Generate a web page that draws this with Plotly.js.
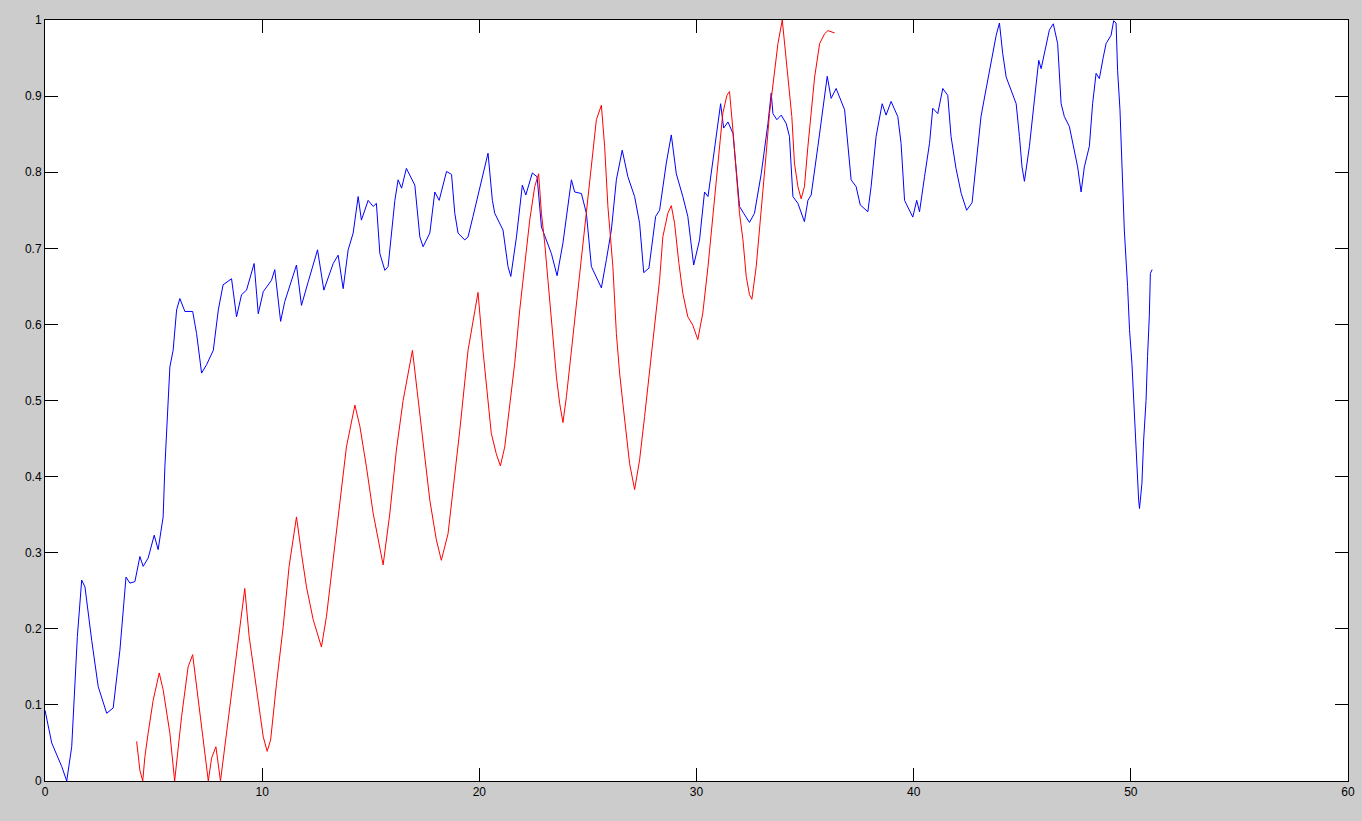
<!DOCTYPE html>
<html>
<head>
<meta charset="utf-8">
<script src="https://cdn.plot.ly/plotly-3.0.1.min.js"></script>
<style>html,body{margin:0;padding:0;background:#cccccc;}#chart{width:1362px;height:821px;}</style>
</head>
<body>
<div id="chart"></div>
<script>
const blueX = [0,0.31,0.77,1.0,1.23,1.38,1.49,1.69,1.84,2.15,2.45,2.84,3.14,3.45,3.73,3.91,4.14,4.37,4.52,4.75,5.03,5.21,5.44,5.52,5.67,5.75,5.9,6.06,6.21,6.44,6.8,6.98,7.21,7.44,7.75,7.98,8.2,8.59,8.82,9.05,9.28,9.63,9.82,10.05,10.43,10.58,10.85,11.04,11.58,11.81,12.12,12.55,12.84,13.27,13.5,13.73,13.96,14.19,14.42,14.57,14.88,15.11,15.26,15.42,15.65,15.8,16.11,16.26,16.42,16.64,17.03,17.26,17.41,17.72,17.95,18.15,18.49,18.72,18.87,19.02,19.33,19.48,19.71,20.02,20.4,20.6,20.71,21.09,21.32,21.45,21.71,21.98,22.14,22.44,22.66,22.86,23.09,23.32,23.58,23.85,24.24,24.39,24.7,24.93,25.16,25.31,25.62,25.85,26.08,26.31,26.58,26.84,27.15,27.38,27.57,27.81,28.12,28.3,28.61,28.84,29.07,29.37,29.6,29.87,30.14,30.37,30.53,30.76,31.11,31.25,31.45,31.68,31.83,31.98,32.17,32.44,32.67,32.98,33.29,33.44,33.52,33.7,33.9,34.13,34.28,34.44,34.67,34.97,35.13,35.28,35.59,35.82,36.02,36.2,36.43,36.82,36.97,37.12,37.35,37.54,37.89,38.04,38.27,38.55,38.73,38.96,39.27,39.42,39.58,39.96,40.14,40.27,40.5,40.73,40.88,41.11,41.34,41.57,41.72,41.95,42.19,42.44,42.69,42.87,43.1,43.3,43.57,43.8,43.95,44.1,44.26,44.49,44.72,44.87,44.99,45.1,45.33,45.56,45.76,45.87,46.02,46.25,46.43,46.63,46.79,46.94,47.17,47.4,47.55,47.71,47.86,48.09,48.24,48.4,48.55,48.73,48.86,49.09,49.21,49.32,49.39,49.5,49.59,49.7,49.85,49.94,50.05,50.13,50.21,50.28,50.36,50.4,50.51,50.59,50.7,50.77,50.85,50.9,50.98];
const blueY = [0.093,0.05,0.019,0.0,0.045,0.12,0.19,0.264,0.255,0.185,0.124,0.089,0.096,0.172,0.268,0.26,0.262,0.295,0.282,0.293,0.323,0.304,0.347,0.413,0.5,0.544,0.566,0.619,0.634,0.617,0.617,0.588,0.536,0.547,0.566,0.619,0.652,0.66,0.61,0.639,0.645,0.68,0.614,0.643,0.658,0.672,0.604,0.63,0.678,0.625,0.656,0.698,0.645,0.68,0.691,0.647,0.698,0.72,0.768,0.737,0.763,0.755,0.759,0.693,0.671,0.676,0.763,0.79,0.779,0.805,0.783,0.715,0.702,0.72,0.774,0.763,0.801,0.797,0.746,0.72,0.711,0.715,0.742,0.781,0.825,0.763,0.746,0.724,0.676,0.663,0.715,0.783,0.77,0.799,0.794,0.728,0.711,0.693,0.664,0.707,0.79,0.774,0.772,0.746,0.676,0.667,0.648,0.685,0.724,0.79,0.829,0.794,0.768,0.733,0.668,0.674,0.742,0.75,0.812,0.849,0.798,0.768,0.742,0.678,0.711,0.774,0.768,0.816,0.89,0.858,0.866,0.851,0.807,0.755,0.746,0.734,0.746,0.798,0.864,0.904,0.877,0.869,0.875,0.864,0.847,0.768,0.759,0.735,0.763,0.77,0.834,0.886,0.926,0.897,0.91,0.882,0.838,0.79,0.781,0.757,0.748,0.781,0.847,0.89,0.875,0.893,0.873,0.838,0.763,0.741,0.763,0.748,0.794,0.838,0.884,0.877,0.91,0.901,0.847,0.805,0.772,0.75,0.76,0.812,0.873,0.904,0.947,0.98,0.996,0.956,0.925,0.908,0.89,0.847,0.807,0.788,0.834,0.895,0.947,0.936,0.956,0.987,0.995,0.969,0.89,0.873,0.86,0.829,0.807,0.774,0.807,0.834,0.89,0.93,0.923,0.951,0.969,0.98,0.999,0.996,0.934,0.882,0.798,0.724,0.65,0.593,0.549,0.5,0.466,0.413,0.369,0.358,0.391,0.448,0.5,0.558,0.61,0.667,0.672];
const redX = [4.22,4.37,4.5,4.6,4.75,4.98,5.26,5.44,5.75,5.97,6.29,6.59,6.8,7.06,7.32,7.52,7.67,7.87,8.08,8.36,8.67,8.97,9.2,9.4,9.66,9.89,10.05,10.23,10.39,10.66,10.97,11.24,11.58,11.81,12.04,12.35,12.73,12.96,13.27,13.58,13.88,14.27,14.5,14.8,15.11,15.57,15.88,16.18,16.49,16.92,17.18,17.41,17.72,18.02,18.25,18.56,18.87,19.1,19.48,19.94,20.17,20.4,20.55,20.78,20.97,21.17,21.4,21.63,21.86,22.09,22.32,22.55,22.73,22.86,23.01,23.16,23.39,23.55,23.7,23.85,24.01,24.24,24.47,24.7,24.93,25.16,25.39,25.62,25.77,25.92,26.15,26.31,26.46,26.61,26.77,26.92,27.15,27.38,27.61,27.84,28.07,28.3,28.45,28.68,28.84,28.99,29.19,29.37,29.6,29.83,30.06,30.29,30.53,30.76,30.99,31.21,31.4,31.52,31.68,31.83,31.98,32.14,32.29,32.44,32.55,32.75,32.98,33.21,33.36,33.52,33.75,33.95,34.13,34.28,34.39,34.51,34.67,34.82,34.97,35.13,35.28,35.44,35.67,35.9,36.05,36.2,36.36];
const redY = [0.052,0.014,0,0.032,0.063,0.106,0.142,0.12,0.063,0,0.085,0.15,0.166,0.106,0.045,0,0.03,0.045,0,0.063,0.133,0.203,0.253,0.19,0.137,0.089,0.058,0.039,0.054,0.128,0.203,0.282,0.347,0.299,0.255,0.212,0.176,0.216,0.29,0.369,0.439,0.494,0.466,0.413,0.352,0.284,0.352,0.435,0.5,0.566,0.5,0.439,0.369,0.317,0.29,0.325,0.4,0.461,0.566,0.642,0.565,0.5,0.457,0.43,0.414,0.439,0.492,0.549,0.619,0.676,0.737,0.781,0.798,0.746,0.707,0.658,0.584,0.531,0.496,0.471,0.505,0.566,0.632,0.689,0.75,0.816,0.869,0.888,0.834,0.755,0.676,0.588,0.536,0.496,0.457,0.417,0.383,0.422,0.479,0.54,0.601,0.658,0.715,0.746,0.756,0.733,0.68,0.641,0.61,0.599,0.58,0.615,0.676,0.746,0.82,0.877,0.901,0.906,0.855,0.798,0.746,0.711,0.663,0.639,0.633,0.676,0.746,0.825,0.877,0.915,0.969,1.0,0.947,0.904,0.873,0.812,0.781,0.765,0.781,0.834,0.876,0.925,0.969,0.982,0.986,0.985,0.983];
const xTicks = [0,10,20,30,40,50,60];
const yTicks = [0,0.1,0.2,0.3,0.4,0.5,0.6,0.7,0.8,0.9,1];

const axisBase = {
  showgrid:false, zeroline:false, showline:true, linecolor:'#000', linewidth:1,
  mirror:'ticks', ticks:'inside', ticklen:13, tickwidth:1, tickcolor:'#000',
  tickfont:{family:'Liberation Sans, Arial, sans-serif', size:12, color:'#000'},
  fixedrange:true
};
const data = [
  {x:blueX, y:blueY, type:'scatter', mode:'lines', line:{color:'#0000ff', width:1}, hoverinfo:'skip'},
  {x:redX, y:redY, type:'scatter', mode:'lines', line:{color:'#ff0000', width:1}, hoverinfo:'skip'}
];
const layout = {
  width:1362, height:821,
  paper_bgcolor:'#cccccc', plot_bgcolor:'#ffffff',
  margin:{l:45, r:14, t:20, b:40, pad:0},
  showlegend:false,
  xaxis:Object.assign({}, axisBase, {range:[0,60], tickvals:xTicks, ticktext:xTicks.map(String)}),
  yaxis:Object.assign({}, axisBase, {range:[0,1], tickvals:yTicks, ticktext:yTicks.map(String)})
};
Plotly.newPlot('chart', data, layout, {staticPlot:true, displayModeBar:false});
</script>
</body>
</html>
